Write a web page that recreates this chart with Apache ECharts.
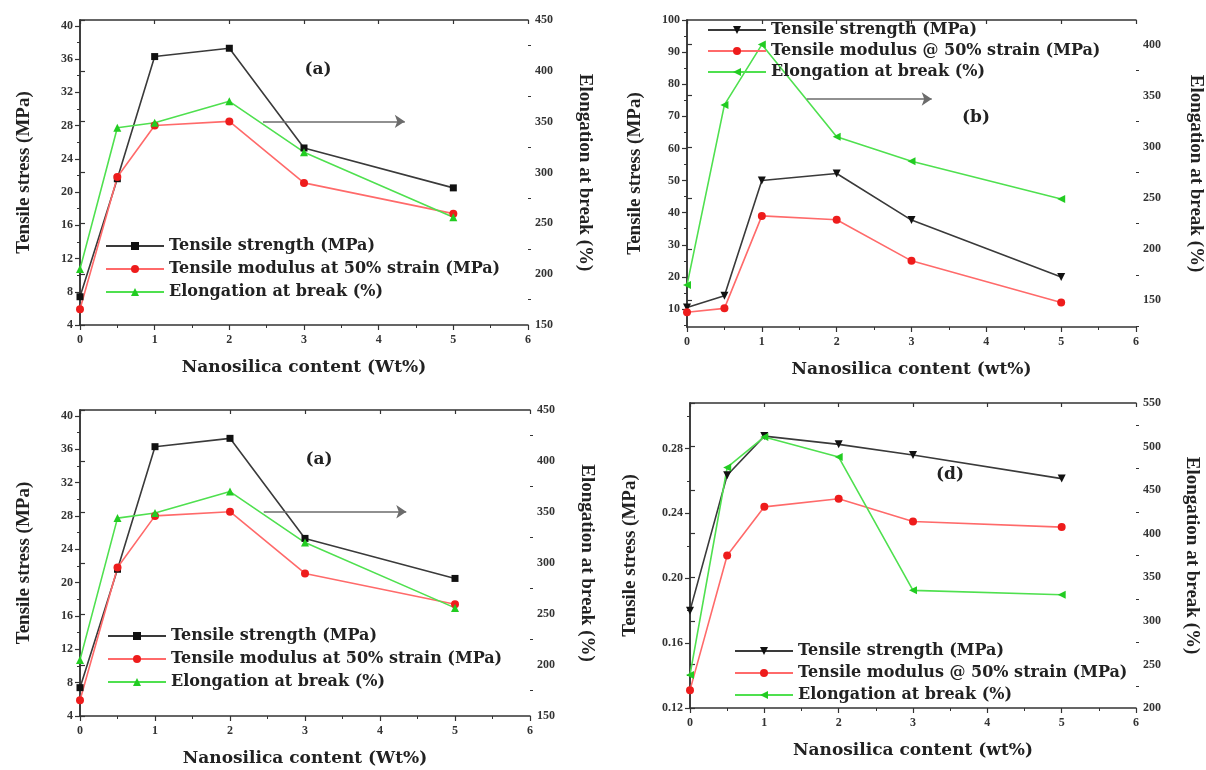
<!DOCTYPE html>
<html>
<head>
<meta charset="utf-8">
<script src="https://cdn.jsdelivr.net/npm/echarts@6/dist/echarts.min.js"></script>
<style>
html,body{margin:0;padding:0;background:#fff;}
#chart{width:1206px;height:770px;}
</style>
</head>
<body>
<div id="chart"></div>
<script>
// ---------- data ----------
const nanoX = [0, 0.5, 1, 2, 3, 5];

// panel (a) (also repeated in the lower-left panel)
const strengthA   = [7.4, 21.6, 36.3, 37.3, 25.3, 20.5];
const modulusA    = [5.9, 21.8, 28.0, 28.5, 21.1, 17.4];
const elongationA = [205, 344, 349, 370, 320, 256];

// panel (b)
const strengthB   = [10.5, 14.1, 50.0, 52.2, 37.7, 20.0];
const modulusB    = [9.0, 10.2, 39.0, 37.8, 25.0, 12.0];
const elongationB = [165, 341, 400, 310, 286, 249];

// panel (d)
const strengthD   = [0.180, 0.2635, 0.2876, 0.2825, 0.2759, 0.2614];
const modulusD    = [0.131, 0.214, 0.244, 0.249, 0.235, 0.2315];
const elongationD = [238, 476, 511, 488, 335, 330];

// tick labels
const xTicks = [0, 1, 2, 3, 4, 5, 6];
const xMinor = [0.5, 1.5, 2.5, 3.5, 4.5, 5.5];
const leftTicksA = [4, 8, 12, 16, 20, 24, 28, 32, 36, 40];
const leftMinorA = [6, 10, 14, 18, 22, 26, 30, 34, 38];
const rightTicksA = [150, 200, 250, 300, 350, 400, 450];
const rightMinorA = [175, 225, 275, 325, 375, 425];
const leftTicksB = [10, 20, 30, 40, 50, 60, 70, 80, 90, 100];
const leftMinorB = [5, 15, 25, 35, 45, 55, 65, 75, 85, 95];
const rightTicksB = [150, 200, 250, 300, 350, 400];
const rightMinorB = [125, 175, 225, 275, 325, 375, 425];
const leftTicksD = [0.12, 0.16, 0.20, 0.24, 0.28];
const leftMinorD = [0.14, 0.18, 0.22, 0.26, 0.30];
const rightTicksD = [200, 250, 300, 350, 400, 450, 500, 550];
const rightMinorD = [225, 275, 325, 375, 425, 475, 525];

// legend names / titles
const nameStrength = 'Tensile strength (MPa)';
const nameModulusAt = 'Tensile modulus at 50% strain (MPa)';
const nameModulusAtSign = 'Tensile modulus @ 50% strain (MPa)';
const nameElong = 'Elongation at break (%)';
const yLeftName = 'Tensile stress (MPa)';
const yRightName = 'Elongation at break (%)';
const xNameUpper = 'Nanosilica content (Wt%)';
const xNameLower = 'Nanosilica content (wt%)';

// arrow annotations (data coordinates on the left axis)
const arrowA = [[2.45, 28.5], [4.35, 28.5]];
const arrowB = [[1.6, 75.4], [3.27, 75.4]];

// ---------- styling ----------
const FONT = '"Liberation Serif", "Times New Roman", serif';
const WFONT = '"DejaVu Serif", "Liberation Serif", serif';
const AX = '#333';
const BLACK = {line: '#3a3a3a', mark: '#111'};
const RED = {line: '#ff6a6a', mark: '#ee1c1c'};
const GREEN = {line: '#4fe04f', mark: '#22cc22'};

const pairs = ys => nanoX.map((x, i) => [x, ys[i]]);

const option = {
  animation: false,
  backgroundColor: '#fff',
  grid: [], xAxis: [], yAxis: [], series: [], legend: [], graphic: []
};

function addPanel(P) {
  const gi = option.grid.length;
  option.grid.push(Object.assign({containLabel: false}, P.grid));
  const xb = option.xAxis.length;
  const lblStyle = {fontFamily: FONT, fontWeight: 'bold', fontSize: 12, color: '#333'};
  const xNameStyle = {fontFamily: WFONT, fontWeight: 'bold', fontSize: 17, color: '#222'};
  const yNameStyle = {fontFamily: FONT, fontWeight: 'bold', fontSize: 19, color: '#222'};
  // bottom x
  option.xAxis.push({
    type: 'value', gridIndex: gi, position: 'bottom', min: 0, max: 6,
    name: P.xName, nameLocation: 'middle', nameGap: 34, nameTextStyle: xNameStyle,
    axisLine: {lineStyle: {color: AX, width: 1.5}},
    axisTick: {length: 5, lineStyle: {color: AX, width: 1.2}, customValues: xTicks},
    axisLabel: Object.assign({customValues: xTicks, margin: 9}, lblStyle),
    splitLine: {show: false}
  });
  // top x (frame)
  option.xAxis.push({
    type: 'value', gridIndex: gi, position: 'top', min: 0, max: 6,
    axisLine: {lineStyle: {color: AX, width: 1.5}},
    axisTick: {inside: true, length: 4, lineStyle: {color: AX, width: 1.2}, customValues: xTicks},
    axisLabel: {show: false}, splitLine: {show: false}
  });
  // bottom x minor
  option.xAxis.push({
    type: 'value', gridIndex: gi, position: 'bottom', min: 0, max: 6,
    axisLine: {show: false},
    axisTick: {length: 3, lineStyle: {color: AX, width: 1}, customValues: xMinor},
    axisLabel: {show: false}, splitLine: {show: false}
  });
  const yb = option.yAxis.length;
  option.yAxis.push({
    type: 'value', gridIndex: gi, position: 'left', min: P.yL.min, max: P.yL.max,
    name: yLeftName, nameLocation: 'middle', nameGap: P.yL.gap,
    nameTextStyle: yNameStyle,
    axisLine: {show: true, lineStyle: {color: AX, width: 1.5}},
    axisTick: {show: true, length: 5, lineStyle: {color: AX, width: 1.2}, customValues: P.yL.ticks},
    axisLabel: Object.assign({customValues: P.yL.ticks, margin: 7, formatter: P.yL.fmt}, lblStyle),
    splitLine: {show: false}
  });
  option.yAxis.push({
    type: 'value', gridIndex: gi, position: 'right', min: P.yR.min, max: P.yR.max,
    name: yRightName, nameLocation: 'middle', nameGap: P.yR.gap, nameRotate: -90,
    nameTextStyle: yNameStyle,
    axisLine: {show: true, lineStyle: {color: AX, width: 1.5}},
    axisTick: {show: true, length: 5, lineStyle: {color: AX, width: 1.2}, customValues: P.yR.ticks},
    axisLabel: Object.assign({customValues: P.yR.ticks, margin: 7}, lblStyle),
    splitLine: {show: false}
  });
  option.yAxis.push({
    type: 'value', gridIndex: gi, position: 'left', min: P.yL.min, max: P.yL.max,
    axisLine: {show: false},
    axisTick: {show: true, length: 3, lineStyle: {color: AX, width: 1}, customValues: P.yL.minor},
    axisLabel: {show: false}, splitLine: {show: false}
  });
  option.yAxis.push({
    type: 'value', gridIndex: gi, position: 'right', min: P.yR.min, max: P.yR.max,
    axisLine: {show: false},
    axisTick: {show: true, length: 3, lineStyle: {color: AX, width: 1}, customValues: P.yR.minor},
    axisLabel: {show: false}, splitLine: {show: false}
  });
  const names = [];
  P.series.forEach(s => {
    const sname = P.key + '|' + s.name;
    names.push(sname);
    const ser = {
      type: 'line', name: sname, xAxisIndex: xb, yAxisIndex: s.right ? yb + 1 : yb,
      data: pairs(s.data), symbol: s.symbol, symbolSize: s.size || 8, symbolRotate: s.rotate || 0,
      lineStyle: {color: s.color.line, width: 1.6},
      itemStyle: {color: s.color.mark},
      z: s.z || 2
    };
    if (s.arrow) {
      ser.markLine = {
        silent: true, symbol: ['none', 'arrow'], symbolSize: 10,
        lineStyle: {color: '#6b6b6b', width: 1.5, type: 'solid'},
        itemStyle: {color: '#6b6b6b'},
        label: {show: false},
        emphasis: {disabled: true},
        data: [[{coord: s.arrow[0]}, {coord: s.arrow[1]}]]
      };
    }
    option.series.push(ser);
  });
  option.legend.push({
    orient: 'vertical', left: P.legend.left, top: P.legend.top,
    itemWidth: 58, itemHeight: 10, itemGap: P.legend.gap, padding: 0,
    textStyle: {fontFamily: WFONT, fontWeight: 'bold', fontSize: 16, color: '#222'},
    data: names, selectedMode: false,
    formatter: n => n.split('|')[1]
  });
  option.graphic.push({
    type: 'text', x: P.tag.x, y: P.tag.y,
    style: {text: P.tag.text, font: 'bold 17px ' + WFONT, fill: '#222', align: 'center', verticalAlign: 'middle'}
  });
}

const intFmt = v => String(v);

// (a) top-left
addPanel({
  key: 'a', grid: {left: 80, top: 20, width: 448, height: 305}, xName: xNameUpper,
  yL: {min: 4, max: 40.7, ticks: leftTicksA, minor: leftMinorA, gap: 46, fmt: intFmt},
  yR: {min: 150, max: 450, ticks: rightTicksA, minor: rightMinorA, gap: 47},
  series: [
    {name: nameStrength, data: strengthA, color: BLACK, symbol: 'rect', size: 7, arrow: arrowA},
    {name: nameModulusAt, data: modulusA, color: RED, symbol: 'circle'},
    {name: nameElong, data: elongationA, color: GREEN, symbol: 'triangle', right: true}
  ],
  legend: {left: 105, top: 238, gap: 7},
  tag: {text: '(a)', x: 318, y: 70}
});

// (b) top-right
addPanel({
  key: 'b', grid: {left: 687, top: 20, width: 450, height: 307}, xName: xNameLower,
  yL: {min: 4.4, max: 100, ticks: leftTicksB, minor: leftMinorB, gap: 42, fmt: intFmt},
  yR: {min: 124, max: 424, ticks: rightTicksB, minor: rightMinorB, gap: 50},
  series: [
    {name: nameStrength, data: strengthB, color: BLACK, symbol: 'triangle', rotate: 180, arrow: arrowB},
    {name: nameModulusAtSign, data: modulusB, color: RED, symbol: 'circle'},
    {name: nameElong, data: elongationB, color: GREEN, symbol: 'triangle', rotate: 90, right: true}
  ],
  legend: {left: 707, top: 22, gap: 5},
  tag: {text: '(b)', x: 976, y: 118}
});

// lower-left (repeat of (a))
addPanel({
  key: 'c', grid: {left: 80, top: 410, width: 450, height: 306}, xName: xNameUpper,
  yL: {min: 4, max: 40.7, ticks: leftTicksA, minor: leftMinorA, gap: 46, fmt: intFmt},
  yR: {min: 150, max: 450, ticks: rightTicksA, minor: rightMinorA, gap: 47},
  series: [
    {name: nameStrength, data: strengthA, color: BLACK, symbol: 'rect', size: 7, arrow: arrowA},
    {name: nameModulusAt, data: modulusA, color: RED, symbol: 'circle'},
    {name: nameElong, data: elongationA, color: GREEN, symbol: 'triangle', right: true}
  ],
  legend: {left: 107, top: 628, gap: 7},
  tag: {text: '(a)', x: 319, y: 460}
});

// (d) lower-right
addPanel({
  key: 'd', grid: {left: 690, top: 403, width: 446, height: 305}, xName: xNameLower,
  yL: {min: 0.12, max: 0.308, ticks: leftTicksD, minor: leftMinorD, gap: 50, fmt: v => v.toFixed(2)},
  yR: {min: 200, max: 550, ticks: rightTicksD, minor: rightMinorD, gap: 46},
  series: [
    {name: nameStrength, data: strengthD, color: BLACK, symbol: 'triangle', rotate: 180},
    {name: nameModulusAtSign, data: modulusD, color: RED, symbol: 'circle'},
    {name: nameElong, data: elongationD, color: GREEN, symbol: 'triangle', rotate: 90, right: true}
  ],
  legend: {left: 734, top: 643, gap: 6},
  tag: {text: '(d)', x: 950, y: 475}
});

const chart = echarts.init(document.getElementById('chart'), null, {renderer: 'canvas'});
chart.setOption(option);
</script>
</body>
</html>
